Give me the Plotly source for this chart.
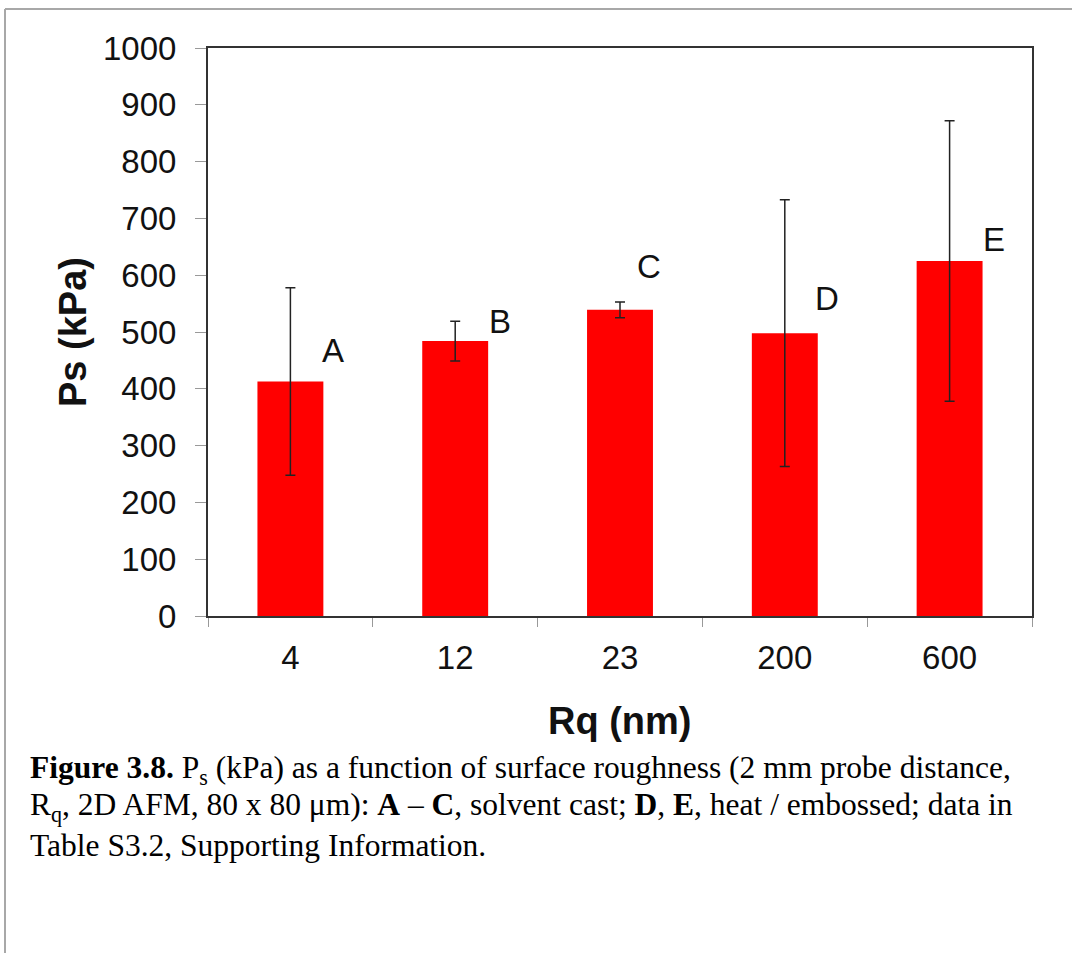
import plotly.graph_objects as go

# ---- data ----
categories = ["4", "12", "23", "200", "600"]
ps_values = [413, 484, 539, 498, 625]
ps_errors = [165, 35, 14, 235, 247]
bar_labels = ["A", "B", "C", "D", "E"]
label_y = [468, 518, 616, 559, 662]
label_xshift = [43, 45, 29, 42, 44]
y_ticks = list(range(0, 1001, 100))

# ---- layout geometry (pixels) ----
W, H = 1072, 953
L, R, T, B = 208, 1032, 48, 616
pw, ph = R - L, B - T


def px(x):
    return (x - L) / pw


def py(y):
    return (B - y) / ph


SANS = "Liberation Sans, Arial, sans-serif"
SERIF = "Liberation Serif, Times New Roman, serif"

fig = go.Figure()
fig.add_trace(go.Bar(
    x=categories, y=ps_values, width=0.40,
    marker=dict(color="#FF0000", line=dict(width=0)),
    error_y=dict(type="data", array=ps_errors, visible=True,
                 color="#222222", thickness=1.5, width=5),
    showlegend=False,
))

annotations = []
for i, (t, yy, xs) in enumerate(zip(bar_labels, label_y, label_xshift)):
    annotations.append(dict(x=i, y=yy, xref="x", yref="y", text=t, showarrow=False,
                            xshift=xs, font=dict(family=SANS, size=33, color="#111111"),
                            xanchor="center", yanchor="middle"))

# axis titles
annotations.append(dict(x=px(73), y=py(332), xref="paper", yref="paper",
                        text="<b>Ps (kPa)</b>", textangle=-90, showarrow=False,
                        font=dict(family=SANS, size=38, color="#111111"),
                        xanchor="center", yanchor="middle"))
annotations.append(dict(x=px(620), y=py(721), xref="paper", yref="paper",
                        text="<b>Rq (nm)</b>", showarrow=False,
                        font=dict(family=SANS, size=38, color="#111111"),
                        xanchor="center", yanchor="middle"))

# caption
caption_lines = [
    "<b>Figure 3.8.</b> P<sub>s</sub> (kPa) as a function of surface roughness (2 mm probe distance,",
    "R<sub>q</sub>, 2D AFM, 80 x 80 μm): <b>A</b> – <b>C</b>, solvent cast; <b>D</b>, <b>E</b>, heat / embossed; data in",
    "Table S3.2, Supporting Information.",
]
cap_y = [770, 807, 845]
for line, yy in zip(caption_lines, cap_y):
    annotations.append(dict(x=px(28), y=py(yy), xref="paper", yref="paper",
                            text=line, showarrow=False, align="left",
                            font=dict(family=SERIF, size=31.5, color="#000000"),
                            xanchor="left", yanchor="middle"))

shapes = [
    dict(type="line", xref="paper", yref="paper", x0=px(5), x1=px(5), y0=py(9), y1=py(953),
         line=dict(color="#A8A8A8", width=2)),
    dict(type="line", xref="paper", yref="paper", x0=px(5), x1=px(1072), y0=py(9), y1=py(9),
         line=dict(color="#A8A8A8", width=2)),
]

fig.update_layout(
    width=W, height=H,
    margin=dict(l=L, r=W - R, t=T, b=H - B, autoexpand=False),
    paper_bgcolor="white", plot_bgcolor="white",
    annotations=annotations, shapes=shapes,
    xaxis=dict(type="category", range=[-0.5, 4.5], showgrid=False,
               showline=True, linecolor="#333333", linewidth=2, mirror=True,
               ticks="outside", tickson="boundaries", ticklen=9, tickcolor="#999999",
               tickwidth=1, tickfont=dict(family=SANS, size=33, color="#111111"),
               ticklabelstandoff=11, automargin=False),
    yaxis=dict(range=[0, 1000], tickvals=y_ticks, showgrid=False, zeroline=False,
               showline=True, linecolor="#333333", linewidth=2, mirror=True,
               ticks="outside", ticklen=11, tickcolor="#999999", tickwidth=1,
               tickfont=dict(family=SANS, size=33, color="#111111"),
               ticklabelstandoff=12, automargin=False),
    bargap=0.6,
)

fig.write_html("out.html")
